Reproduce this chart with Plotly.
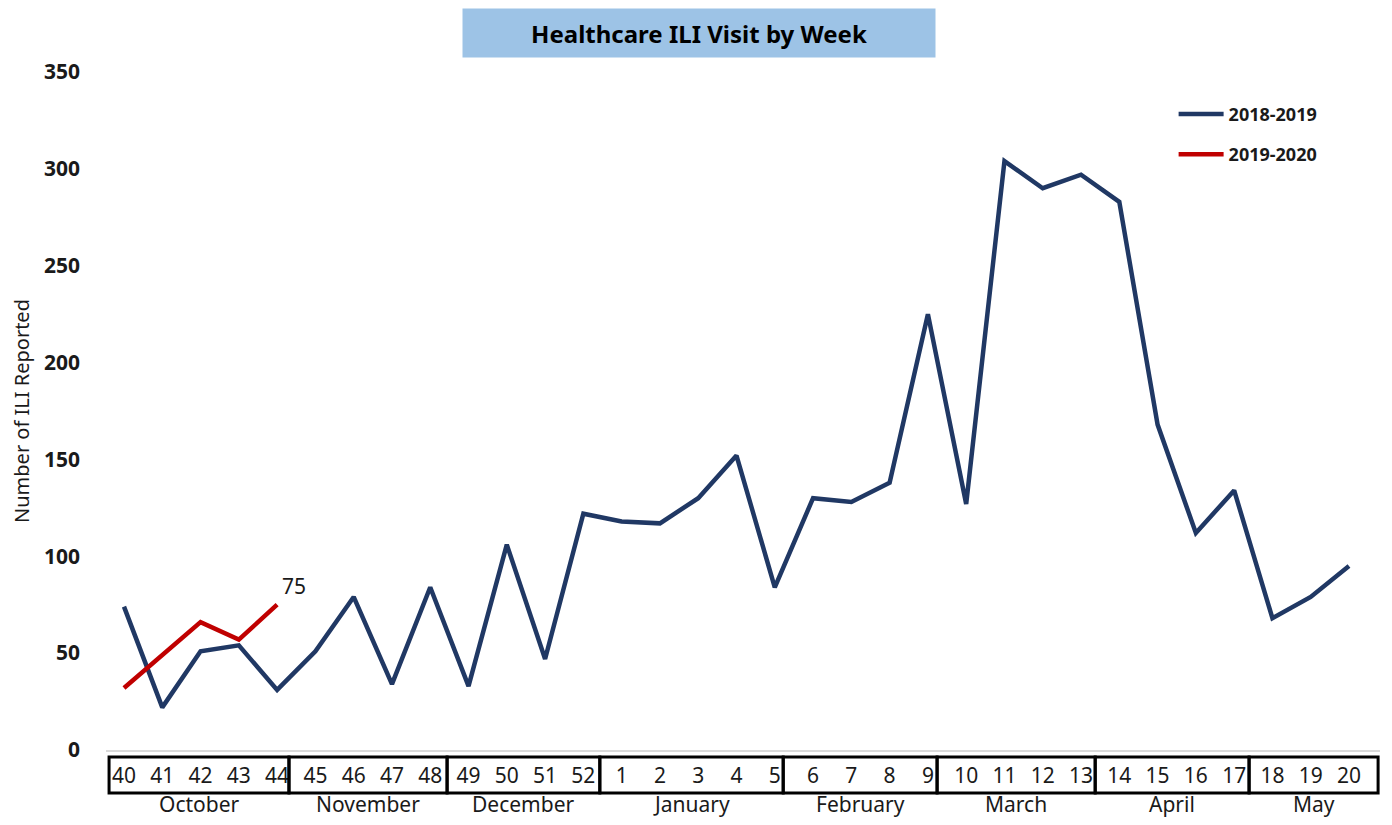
import plotly.graph_objects as go

weeks = ["40", "41", "42", "43", "44", "45", "46", "47", "48", "49", "50", "51", "52",
         "1", "2", "3", "4", "5", "6", "7", "8", "9", "10", "11", "12", "13",
         "14", "15", "16", "17", "18", "19", "20"]
season_2018 = [74, 22, 51, 54, 31, 51, 79, 34, 84, 33, 106, 47, 122,
               118, 117, 130, 152, 84, 130, 128, 138, 225, 127, 304, 290, 297,
               283, 168, 112, 134, 68, 79, 95]
season_2019 = [32, 49, 66, 57, 75]

months = ["October", "November", "December", "January", "February", "March", "April", "May"]
# box edges of the month groups, in category units
month_edges = [-0.39, 4.31, 8.44, 12.43, 17.22, 21.24, 25.37, 29.39, 32.76]

font = "Noto Sans"
navy = "#203864"
red = "#C00000"
txt = "#1a1a1a"

fig = go.Figure()
fig.add_trace(go.Scatter(
    x=weeks, y=season_2018, mode="lines", name="2018-2019",
    line=dict(color=navy, width=4.5), legendgroup="a",
))
fig.add_trace(go.Scatter(
    x=weeks[:len(season_2019)], y=season_2019, mode="lines", name="2019-2020",
    line=dict(color=red, width=4.5), legendgroup="b",
))

# last value label (category index, since week names look numeric)
fig.add_annotation(
    x=len(season_2019) - 1, y=season_2019[-1], text=str(season_2019[-1]),
    showarrow=False, xanchor="left", yanchor="bottom", xshift=3, yshift=3,
    font=dict(family=font, size=21, color=txt),
)

# month boxes under the axis
for i, m in enumerate(months):
    fig.add_shape(
        type="rect", xref="x", yref="paper",
        x0=month_edges[i], x1=month_edges[i + 1], y0=-0.0103, y1=-0.0634,
        line=dict(color="black", width=3),
    )
    fig.add_annotation(
        x=(month_edges[i] + month_edges[i + 1]) / 2, xref="x", y=-0.0796, yref="paper",
        text=m, showarrow=False, yanchor="middle",
        font=dict(family=font, size=21, color=txt),
    )

# title box
fig.add_annotation(
    x=0.4655, y=1.0575, xref="paper", yref="paper",
    xanchor="center", yanchor="middle",
    text="<b>Healthcare ILI Visit by Week</b>", showarrow=False,
    width=470, height=46, bgcolor="#9DC3E6",
    font=dict(family=font, size=24, color="black"),
)

fig.update_layout(
    width=1376, height=809,
    margin=dict(l=98, r=4, t=64, b=67),
    paper_bgcolor="white", plot_bgcolor="white",
    showlegend=True,
    legend=dict(
        x=0.838, y=0.965, xanchor="left", yanchor="top",
        font=dict(family=font, size=18, color=txt, weight="bold"),
        tracegroupgap=14, bgcolor="rgba(0,0,0,0)", itemwidth=45,
    ),
    xaxis=dict(
        type="category", range=[-0.47, 32.81], automargin=False,
        showgrid=False, zeroline=False,
        showline=True, linecolor="#d9d9d9", linewidth=2,
        ticks="", ticklabelstandoff=6,
        tickfont=dict(family=font, size=21, color=txt),
    ),
    yaxis=dict(
        range=[0, 350], dtick=50, automargin=False,
        showgrid=False, zeroline=False, showline=False,
        ticks="", ticklabelstandoff=25,
        tickfont=dict(family=font, size=21, color=txt, weight="bold"),
        title=dict(text="Number of ILI Reported", font=dict(family=font, size=20, color=txt), standoff=19),
    ),
)

fig.write_html("out.html")
